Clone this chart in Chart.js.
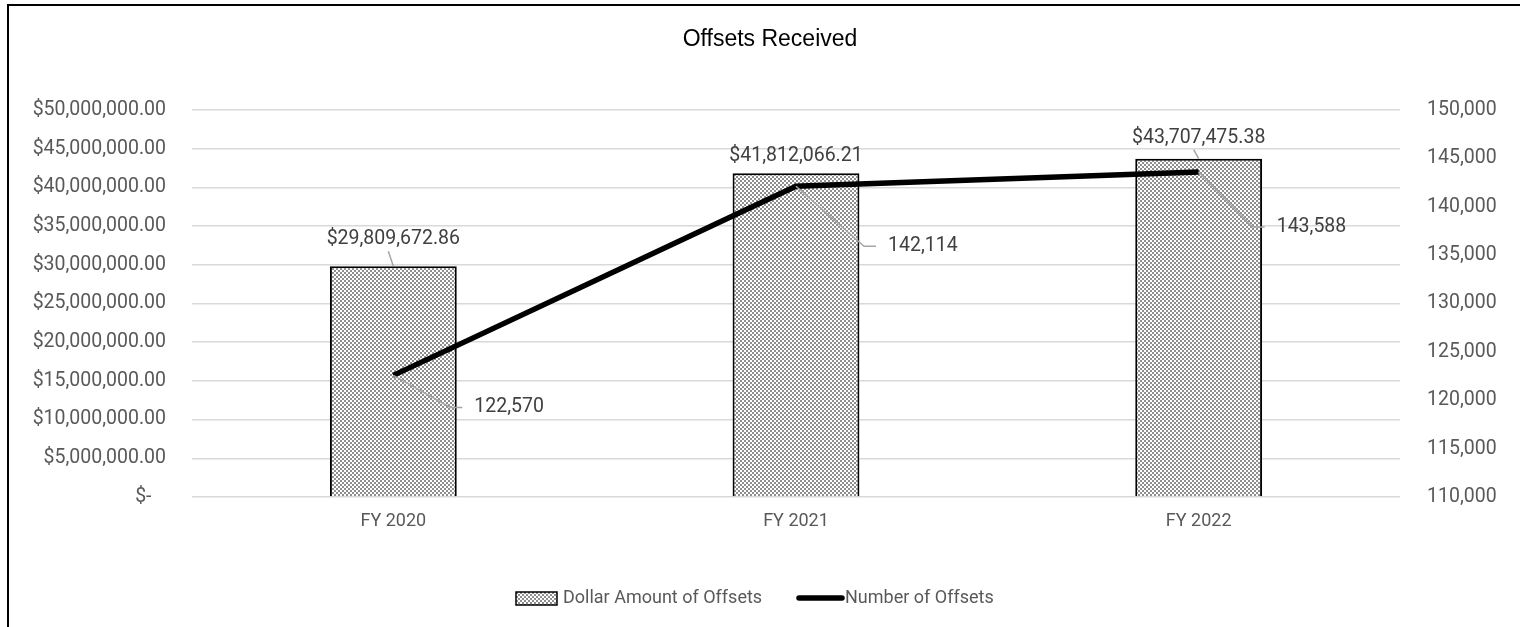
<!DOCTYPE html>
<html>
<head>
<meta charset="utf-8">
<title>Offsets Received</title>
<script src="https://cdn.jsdelivr.net/npm/chart.js@4/dist/chart.umd.min.js"></script>
<style>
  html, body { margin: 0; padding: 0; background: #fff; }
  #wrap { width: 1520px; height: 627px; }
</style>
</head>
<body>
<div id="wrap"><canvas id="offsetsChart" width="1520" height="627"></canvas></div>
<script>
const fiscalYears = ['FY 2020', 'FY 2021', 'FY 2022'];
const dollarAmounts = [29809672.86, 41812066.21, 43707475.38];
const offsetCounts = [122570, 142114, 143588];

// label placement, px relative to the mark
const barLabelLift = [27, 17, 21];
const countLabelShift = [[81, 32], [92, 60], [78, 55]];

const FONT = 'Roboto, "Liberation Sans", sans-serif';
const TEXT_GREY = '#595959';
const NUM_SIZE = 19.5;

function makeHatch() {
    const c = document.createElement('canvas');
    c.width = 4; c.height = 4;
    const g = c.getContext('2d');
    g.fillStyle = '#ffffff';
    g.fillRect(0, 0, 4, 4);
    g.fillStyle = '#8f8f8f';
    g.fillRect(0, 0, 2, 2);
    g.fillRect(2, 2, 2, 2);
    return g.createPattern(c, 'repeat');
}

function money(v) {
    return '$' + v.toLocaleString('en-US', { minimumFractionDigits: 2, maximumFractionDigits: 2 });
}

const chartDecor = {
    id: 'chartDecor',
    beforeDraw(chart) {
        const ctx = chart.ctx;
        ctx.save();
        ctx.fillStyle = '#fff';
        ctx.fillRect(0, 0, chart.width, chart.height);
        ctx.strokeStyle = '#000';
        ctx.lineWidth = 2;
        ctx.strokeRect(8, 5, chart.width + 20, chart.height + 20);

        ctx.fillStyle = '#000';
        ctx.font = '23px "Liberation Sans", Arial, sans-serif';
        ctx.textAlign = 'center';
        ctx.textBaseline = 'middle';
        ctx.fillText('Offsets Received', 770, 40);
        ctx.restore();
    },
    afterDraw(chart) {
        const ctx = chart.ctx;
        const barMeta = chart.getDatasetMeta(0);
        const lineMeta = chart.getDatasetMeta(1);
        ctx.save();
        ctx.font = NUM_SIZE + 'px ' + FONT;
        ctx.textBaseline = 'middle';

        // dollar labels above bars
        barMeta.data.forEach((bar, i) => {
            const ly = bar.y - barLabelLift[i];
            ctx.fillStyle = '#404040';
            ctx.textAlign = 'center';
            ctx.fillText(money(dollarAmounts[i]), bar.x, ly);
            if (barLabelLift[i] > 20) {
                ctx.strokeStyle = '#a6a6a6';
                ctx.lineWidth = 1.5;
                ctx.beginPath();
                ctx.moveTo(bar.x - 5, ly + 12);
                ctx.lineTo(bar.x, bar.y);
                ctx.stroke();
            }
        });

        // count labels with leader lines
        lineMeta.data.forEach((pt, i) => {
            const tx = pt.x + countLabelShift[i][0];
            const ty = pt.y + countLabelShift[i][1];
            ctx.strokeStyle = '#a6a6a6';
            ctx.lineWidth = 1.5;
            ctx.beginPath();
            ctx.moveTo(pt.x, pt.y);
            ctx.lineTo(tx - 24, ty);
            ctx.lineTo(tx - 12, ty);
            ctx.stroke();
            ctx.fillStyle = '#404040';
            ctx.textAlign = 'left';
            ctx.fillText(offsetCounts[i].toLocaleString('en-US'), tx, ty);
        });

        // legend
        const ly = 598;
        ctx.font = '18px ' + FONT;
        ctx.fillStyle = chart.data.datasets[0].backgroundColor;
        ctx.fillRect(516, ly - 6, 41, 13);
        ctx.strokeStyle = '#000';
        ctx.lineWidth = 1.5;
        ctx.strokeRect(516, ly - 6, 41, 13);
        ctx.fillStyle = TEXT_GREY;
        ctx.textAlign = 'left';
        ctx.fillText(chart.data.datasets[0].label, 563, ly);

        ctx.strokeStyle = '#000';
        ctx.lineWidth = 5.5;
        ctx.lineCap = 'round';
        ctx.beginPath();
        ctx.moveTo(799, ly);
        ctx.lineTo(842, ly);
        ctx.stroke();
        ctx.fillText(chart.data.datasets[1].label, 845, ly);
        ctx.restore();
    }
};

new Chart(document.getElementById('offsetsChart'), {
    data: {
        labels: fiscalYears,
        datasets: [
            {
                type: 'bar',
                label: 'Dollar Amount of Offsets',
                data: dollarAmounts,
                yAxisID: 'y',
                backgroundColor: makeHatch(),
                borderColor: '#000',
                borderWidth: 2,
                categoryPercentage: 1,
                barPercentage: 0.315,
                order: 2
            },
            {
                type: 'line',
                label: 'Number of Offsets',
                data: offsetCounts,
                yAxisID: 'y1',
                borderColor: '#000',
                borderWidth: 5.5,
                pointRadius: 0,
                tension: 0,
                order: 1
            }
        ]
    },
    options: {
        responsive: false,
        animation: false,
        layout: { padding: { top: 110, bottom: 80, left: 0, right: 0 } },
        plugins: {
            legend: { display: false },
            title: { display: false },
            tooltip: { enabled: false }
        },
        scales: {
            x: {
                grid: { display: false, drawTicks: false },
                border: { display: false },
                ticks: { color: TEXT_GREY, font: { family: FONT, size: 18 }, padding: 14 },
                afterFit(axis) { axis.height = 50; }
            },
            y: {
                position: 'left',
                min: 0,
                max: 50000000,
                grid: { color: '#d9d9d9', lineWidth: 1.5, drawTicks: false },
                border: { display: false },
                ticks: {
                    stepSize: 5000000,
                    padding: 26,
                    color: TEXT_GREY,
                    font: { family: FONT, size: NUM_SIZE },
                    callback: v => v === 0 ? '$-   ' : money(v)
                },
                afterFit(axis) { axis.width = 192; }
            },
            y1: {
                position: 'right',
                min: 110000,
                max: 150000,
                grid: { display: false, drawTicks: false },
                border: { display: false },
                ticks: {
                    stepSize: 5000,
                    padding: 27,
                    color: TEXT_GREY,
                    font: { family: FONT, size: NUM_SIZE },
                    callback: v => v.toLocaleString('en-US')
                },
                afterFit(axis) { axis.width = 120; }
            }
        }
    },
    plugins: [chartDecor]
});
</script>
</body>
</html>
